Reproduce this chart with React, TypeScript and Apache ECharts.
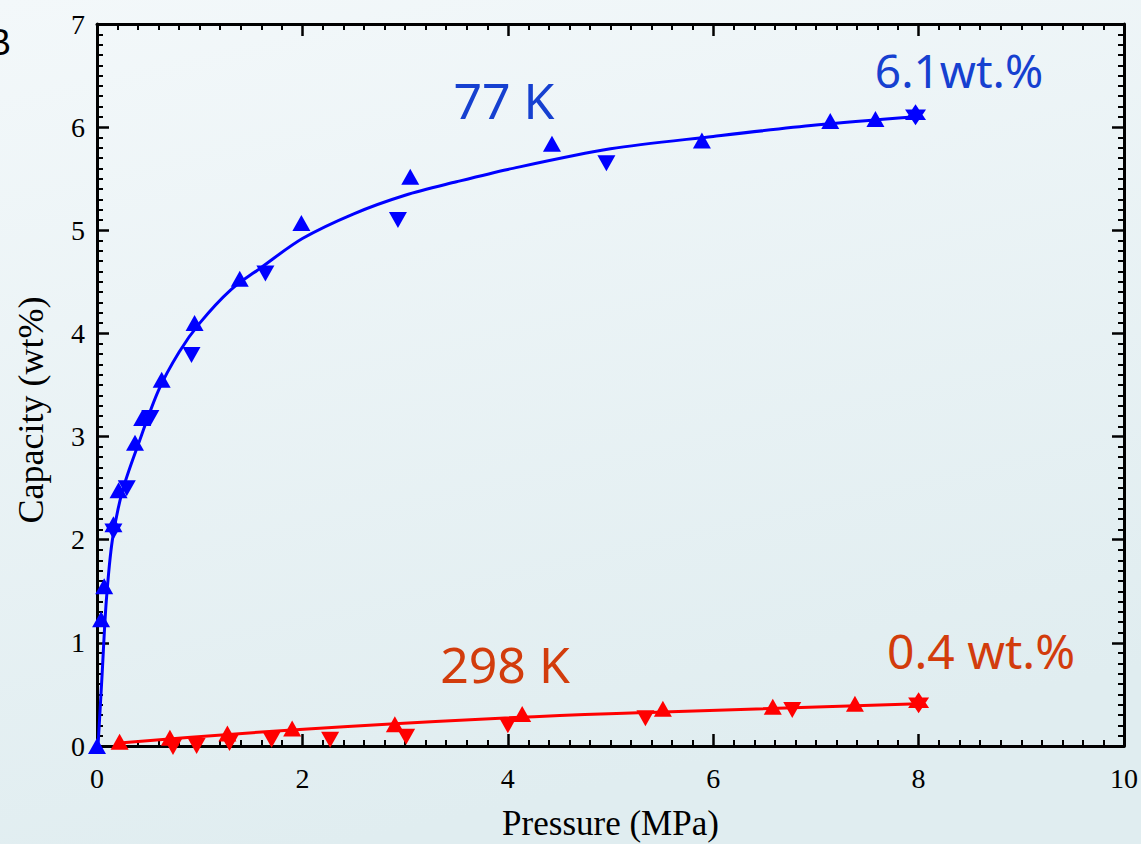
import React, { useEffect, useRef } from "react";
import * as echarts from "echarts";

// ---- data ----
const blueUp: number[][] = [
  [0, 0], [0.04, 1.23], [0.07, 1.55], [0.16, 2.15], [0.21, 2.48], [0.37, 2.94],
  [0.44, 3.18], [0.63, 3.55], [0.95, 4.1], [1.39, 4.53], [1.99, 5.07], [3.05, 5.52],
  [4.43, 5.84], [5.89, 5.87], [7.14, 6.06], [7.58, 6.08],
];
const blueDown: number[][] = [
  [0.16, 2.08], [0.29, 2.5], [0.52, 3.18], [0.92, 3.79], [1.64, 4.58], [2.93, 5.1], [4.96, 5.65],
];
const blueStar: number[][] = [[7.97, 6.12]];
const blueFit: number[][] = [
  [0.01, 0], [0.05, 0.7], [0.09, 1.4], [0.15, 2.0], [0.25, 2.48], [0.4, 2.92], [0.6, 3.45],
  [0.8, 3.82], [1.0, 4.1], [1.3, 4.42], [1.6, 4.64], [2.0, 4.92], [2.5, 5.16], [3.0, 5.34],
  [3.5, 5.47], [4.0, 5.59], [5.0, 5.79], [6.0, 5.91], [7.0, 6.02], [7.97, 6.1],
];

const redUp: number[][] = [
  [0.22, 0.04], [0.71, 0.08], [1.27, 0.12], [1.9, 0.17], [2.9, 0.21], [4.14, 0.31],
  [5.51, 0.36], [6.58, 0.38], [7.38, 0.41],
];
const redDown: number[][] = [
  [0.74, -0.01], [0.97, 0.0], [1.29, 0.03], [1.7, 0.06], [2.27, 0.06], [3.01, 0.09],
  [4.0, 0.2], [5.34, 0.27], [6.77, 0.35],
];
const redStar: number[][] = [[8.0, 0.42]];
const redFit: number[][] = [
  [0.22, 0.03], [1.9, 0.155], [3.73, 0.26], [5.51, 0.33], [8.0, 0.41],
];

const xTicks = { min: 0, max: 10, interval: 2 };
const yTicks = { min: 0, max: 7, interval: 1 };

const BLUE = "#0000ff";
const RED = "#ff0000";
const STAR = "path://M0,-10 L8.66,5 L-8.66,5 Z M0,10 L-8.66,-5 L8.66,-5 Z";

export default function App() {
  const ref = useRef<HTMLDivElement>(null);
  useEffect(() => {
    if (!ref.current) return;
    const chart = echarts.init(ref.current, null, { renderer: "svg" });
    const serif = "'Liberation Serif', 'DejaVu Serif', serif";
    const axisCommon = (show: boolean) => ({
      axisLine: { show: true, onZero: false, lineStyle: { color: "#000", width: 3 } },
      axisTick: { show: true, inside: true, length: 12, lineStyle: { color: "#000", width: 2.5 } },
      minorTick: { show: true, splitNumber: 10, length: 6, lineStyle: { color: "#000", width: 2 } },
      splitLine: { show: false },
      axisLabel: { show, color: "#000", fontFamily: serif, fontSize: 28 },
    });
    const scatter = (data: number[][], color: string, symbol: string, rotate: number, size: any) => ({
      type: "scatter",
      data,
      symbol,
      symbolRotate: rotate,
      symbolSize: size,
      itemStyle: { color, opacity: 1 },
      clip: false,
      z: 5,
    });
    const fit = (data: number[][], color: string, smooth: number) => ({
      type: "line",
      data,
      showSymbol: false,
      smooth,
      lineStyle: { color, width: 3 },
      clip: false,
      z: 3,
    });
    chart.setOption({
      animation: false,
      backgroundColor: {
        type: "linear", x: 0, y: 0, x2: 0.3, y2: 1,
        colorStops: [
          { offset: 0, color: "#f3f8fa" },
          { offset: 1, color: "#e0edf0" },
        ],
      },
      grid: { left: 97, right: 17, top: 24, bottom: 98, containLabel: false, outerBoundsMode: "none" },
      xAxis: [
        {
          type: "value", ...xTicks, position: "bottom",
          ...axisCommon(true),
          axisLabel: { show: true, color: "#000", fontFamily: serif, fontSize: 28, margin: 18 },
          name: "Pressure (MPa)", nameLocation: "middle", nameGap: 60,
          nameTextStyle: { color: "#000", fontFamily: serif, fontSize: 35 },
        },
        { type: "value", ...xTicks, position: "top", ...axisCommon(false) },
      ],
      yAxis: [
        {
          type: "value", ...yTicks, position: "left",
          ...axisCommon(true),
          axisLabel: { show: true, color: "#000", fontFamily: serif, fontSize: 28, margin: 12 },
        },
        { type: "value", ...yTicks, position: "right", ...axisCommon(false) },
      ],
      series: [
        fit(blueFit, BLUE, 0.3),
        fit(redFit, RED, 0.5),
        scatter(blueUp, BLUE, "triangle", 0, [18, 16]),
        scatter(blueDown, BLUE, "triangle", 180, [18, 16]),
        scatter(blueStar, BLUE, STAR, 0, [21, 21]),
        scatter(redUp, RED, "triangle", 0, [18, 16]),
        scatter(redDown, RED, "triangle", 180, [18, 16]),
        scatter(redStar, RED, STAR, 0, [21, 21]),
      ],
      graphic: [
        { type: "text", left: -13, top: 24, style: { text: "B", fill: "#000", font: "36px 'Liberation Sans', sans-serif" } },
        { type: "text", x: 31, y: 410, rotation: Math.PI / 2, style: { text: "Capacity (wt%)", fill: "#000", font: `36px ${serif}`, align: "center", verticalAlign: "middle" } },
        { type: "text", x: 504, y: 100, style: { text: "77 K", fill: "#1640d0", font: "50px 'Noto Sans', sans-serif", align: "center", verticalAlign: "middle" } },
        { type: "text", x: 959, y: 70, style: { text: "6.1wt.%", fill: "#1640d0", font: "46px 'Noto Sans', sans-serif", align: "center", verticalAlign: "middle" } },
        { type: "text", x: 505, y: 664, style: { text: "298 K", fill: "#d23c0c", font: "50px 'Noto Sans', sans-serif", align: "center", verticalAlign: "middle" } },
        { type: "text", x: 981, y: 650, style: { text: "0.4 wt.%", fill: "#d23c0c", font: "48px 'Noto Sans', sans-serif", align: "center", verticalAlign: "middle" } },
      ],
    });
    return () => chart.dispose();
  }, []);
  return <div ref={ref} style={{ position: "fixed", left: 0, top: 0, width: 1141, height: 844 }} />;
}
